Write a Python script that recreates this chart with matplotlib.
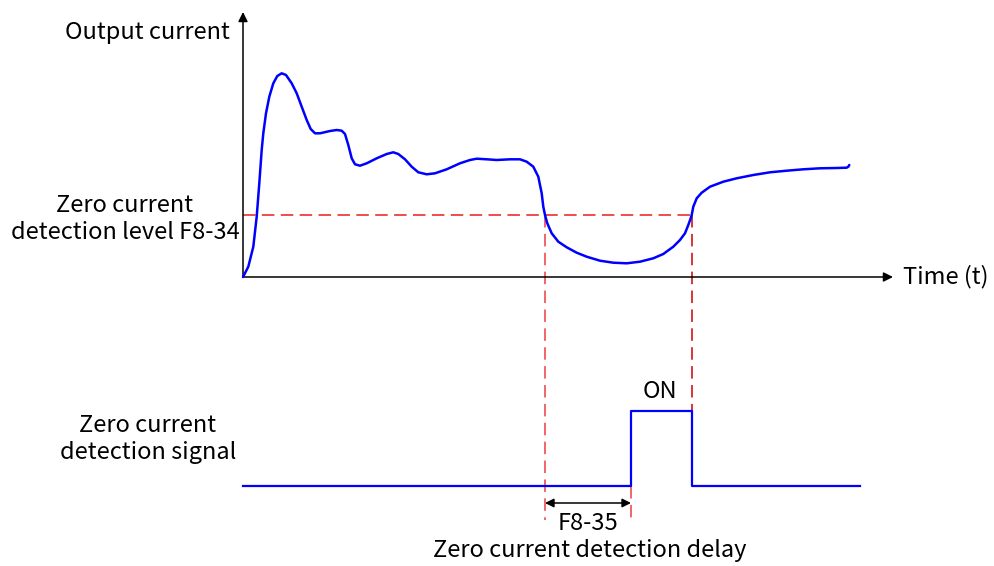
import matplotlib
matplotlib.use("Agg")
import matplotlib.pyplot as plt

plt.rcParams['font.family'] = ['Noto Sans CJK SC', 'DejaVu Sans']
plt.rcParams['lines.scale_dashes'] = False

# ---- data (time units / current units measured from the axes origin) ----
curve_t = [0, 5.3, 10.3, 13.7, 16.3, 18.7, 20.3, 23, 26.3, 30.3, 34.3, 38.7, 43,
           48.7, 53.7, 58.7, 63.7, 67.7, 72, 77, 87, 93.7, 98.7, 102, 105.3, 108.7,
           112, 117, 123.7, 133.7, 143.7, 150.3, 155.3, 162, 168.7, 175.3, 183.7,
           192, 203.7, 217, 227, 233.7, 243.7, 253.7, 267, 277, 283.7, 290.3,
           295.3, 298.7, 300.3, 302, 304.3, 308.7, 315.3, 323.7, 333.7, 343.7,
           357, 370.3, 383.7, 397, 410.3, 420.3, 430.3, 437, 442, 445.3, 447.7,
           448.7, 450.3, 453.7, 458.7, 467, 480.3, 493.7, 510.3, 527, 543.7,
           560.3, 577, 593.7, 603.7, 605.3, 606.3]
curve_i = [0, 10.3, 30.3, 60.3, 93.7, 127, 143.7, 163.7, 180.3, 193.7, 201, 203.7,
           202, 193.7, 183.7, 170.3, 157, 148, 143.7, 143.7, 146, 147, 146.3, 143,
           132, 118.7, 112.7, 111.3, 113.7, 118.7, 123, 124.7, 123, 117.7, 110.3,
           104.7, 102.7, 103.7, 107.7, 113.7, 117, 118.3, 117.7, 117, 117.7, 117.7,
           115.3, 110.3, 100.3, 83.7, 70.3, 62, 53.7, 43.7, 35.3, 29.7, 24.3, 20.3,
           16.3, 14.3, 13.7, 15.3, 18.7, 23, 30.3, 37, 43.7, 52, 58.7, 62, 70.3,
           78.7, 84.3, 90.3, 95.3, 98.7, 102, 104.7, 106.3, 107.7, 108.7, 109,
           109.3, 110.3, 112]
threshold = 62            # zero current detection level F8-34
t_below = 302             # current falls below threshold
t_above = 449             # current rises above threshold
t_on = 388                # signal switches ON (after delay F8-35)
signal_t = [0, t_on, t_on, t_above, t_above, 617]
signal_v = [0, 0, 1, 1, 0, 0]

# ---- layout (pixel-like coordinates) ----
W, H = 994, 566
x0, y0 = 243, 277          # origin of current axes in pixels
sig_base, sig_high = 486, 411

fig = plt.figure(figsize=(W / 100, H / 100), dpi=100)
ax = fig.add_axes([0, 0, 1, 1])
ax.set_xlim(-x0, W - x0)
ax.set_ylim(y0 - H, y0)
ax.axis('off')

def sy(v):
    return (y0 - sig_base) + v * (sig_base - sig_high)

blue = '#0000ff'
red = '#e81c1c'
dred = '#cc0000'
fs = 17

# axes with arrows
ax.annotate('', xy=(0, y0 - 12), xytext=(0, 0),
            arrowprops=dict(arrowstyle='-|>', color='black', lw=1.1,
                            mutation_scale=14, shrinkA=0, shrinkB=0))
ax.annotate('', xy=(893 - x0, 0), xytext=(0, 0),
            arrowprops=dict(arrowstyle='-|>', color='black', lw=1.1,
                            mutation_scale=14, shrinkA=0, shrinkB=0))

# threshold dashed lines
dash = (0, (9.0, 4.6))
ax.plot([0, t_above], [threshold, threshold], color=red, lw=1.1, linestyle=dash, zorder=2)
ax.plot([t_below, t_below], [threshold, (y0 - 520)], color=red, lw=1.1,
        linestyle=dash, alpha=0.85, zorder=2)
ax.plot([t_above, t_above], [threshold, sy(1)], color=dred, lw=1.1, linestyle=dash, zorder=2)
ax.plot([t_on, t_on], [sy(0), (y0 - 520)], color=red, lw=1.1, linestyle=dash,
        alpha=0.85, zorder=2)

# output current curve
ax.plot(curve_t, curve_i, color=blue, lw=1.8, solid_joinstyle='round',
        solid_capstyle='round', zorder=3)

# signal
ax.plot(signal_t, [sy(v) for v in signal_v], color=blue, lw=1.6, zorder=3)

# delay arrow
ax.annotate('', xy=(t_on, y0 - 503), xytext=(t_below, y0 - 503),
            arrowprops=dict(arrowstyle='<|-|>', color='black', lw=1.1,
                            mutation_scale=13, shrinkA=0, shrinkB=0))

# texts
ax.text(230 - x0, y0 - 32, 'Output current', ha='right', va='center', fontsize=fs)
ax.text(903 - x0, 0, 'Time (t)', ha='left', va='center', fontsize=fs)
ax.text(125 - x0, y0 - 219, 'Zero current\ndetection level F8-34', ha='center',
        va='center', fontsize=fs, linespacing=1.19)
ax.text(148 - x0, y0 - 439, 'Zero current\ndetection signal', ha='center',
        va='center', fontsize=fs, linespacing=1.19)
ax.text(660 - x0, y0 - 392, 'ON', ha='center', va='center', fontsize=fs)
ax.text(588 - x0, y0 - 524, 'F8-35', ha='center', va='center', fontsize=fs)
ax.text(590 - x0, y0 - 551, 'Zero current detection delay', ha='center',
        va='center', fontsize=fs)

fig.savefig('out.png', dpi=100)
